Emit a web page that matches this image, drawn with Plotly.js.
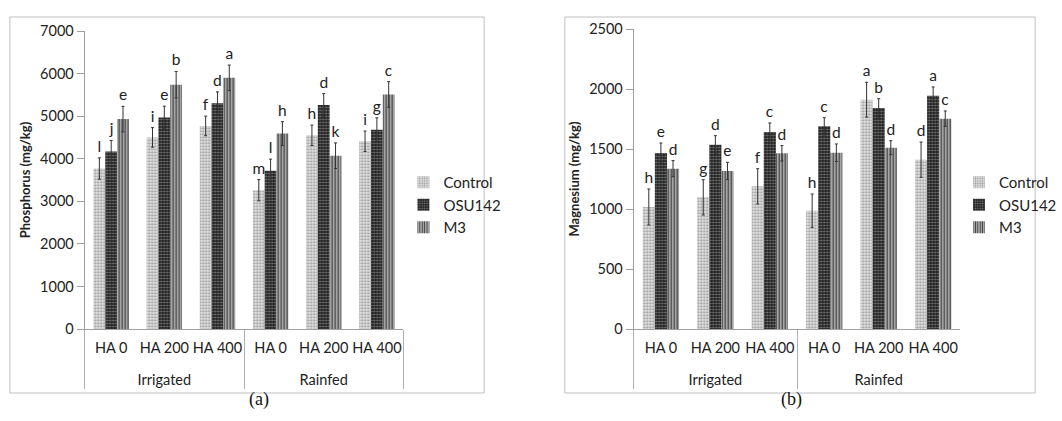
<!DOCTYPE html>
<html>
<head>
<meta charset="utf-8">
<script src="https://cdn.plot.ly/plotly-3.0.1.min.js"></script>
<style>
html,body{margin:0;padding:0;background:#fff;}
#chart{width:1062px;height:421px;}
</style>
</head>
<body>
<div id="chart"></div>
<script>
// ---- Data ----
const groups = ['Irrigated','Irrigated','Irrigated','Rainfed','Rainfed','Rainfed'];
const levels = ['HA 0','HA 200','HA 400','HA 0','HA 200','HA 400'];
const seriesNames = ['Control','OSU142','M3'];

// (a) Phosphorus (mg/kg)
const pControl = [3770, 4500, 4770, 3260, 4550, 4410];
const pControlErr = [250, 230, 230, 250, 240, 240];
const pOSU142 = [4170, 4970, 5300, 3720, 5260, 4680];
const pOSU142Err = [260, 265, 270, 270, 270, 280];
const pM3 = [4930, 5740, 5900, 4590, 4070, 5510];
const pM3Err = [300, 310, 300, 280, 300, 300];
const pControlLetters = ['l','i','f','m','h','i'];
const pOSU142Letters = ['j','e','d','l','d','g'];
const pM3Letters = ['e','b','a','h','k','c'];

// (b) Magnesium (mg/kg)
const mControl = [1017, 1097, 1189, 986, 1911, 1411];
const mControlErr = [150, 147, 147, 139, 145, 147];
const mOSU142 = [1467, 1536, 1642, 1689, 1842, 1944];
const mOSU142Err = [83, 75, 75, 72, 77, 73];
const mM3 = [1336, 1317, 1464, 1469, 1511, 1753];
const mM3Err = [67, 72, 64, 73, 58, 64];
const mControlLetters = ['h','g','f','h','a','d'];
const mOSU142Letters = ['e','d','c','c','b','a'];
const mM3Letters = ['d','e','d','d','d','c'];

// ---- Styles ----
const FONT = 'Lato, "Open Sans", sans-serif';
const patterns = [
  {shape: '.', bgcolor: '#e8e8e8', fgcolor: '#a0a0a0', size: 3, solidity: 0.45},
  {shape: '.', bgcolor: '#1e1e1e', fgcolor: '#7a7a7a', size: 3, solidity: 0.4},
  {shape: '|', bgcolor: '#c8c8c8', fgcolor: '#3a3a3a', size: 3, solidity: 0.5}
];
const offs = ['c','o','m'];
// group labels drawn one line lower (leading line break) to match the original spacing
const groupLabels = groups.map(g => '<br>' + g);

function makeTraces(vals, errs, letters, xa, ya, legendName) {
  const x = [groupLabels, levels];
  const out = [];
  vals.forEach((v, i) => {
    out.push({
      type: 'bar', x: x, y: v, name: seriesNames[i],
      xaxis: xa, yaxis: ya, legend: legendName,
      offsetgroup: offs[i],
      marker: {color: patterns[i].bgcolor, pattern: patterns[i], line: {width: 0}},
      error_y: {type: 'data', array: errs[i], visible: true, color: '#333', thickness: 1, width: 1.5},
      hoverinfo: 'y'
    });
  });
  vals.forEach((v, i) => {
    out.push({
      type: 'bar', x: x, y: v.map((d, k) => d + errs[i][k]),
      xaxis: xa, yaxis: ya, legend: legendName, showlegend: false,
      offsetgroup: offs[i],
      marker: {color: 'rgba(0,0,0,0)', line: {width: 0}},
      text: letters[i], textposition: 'outside', constraintext: 'none',
      textfont: {family: FONT, size: 15.5, color: '#222'},
      cliponaxis: false, hoverinfo: 'skip'
    });
  });
  return out;
}

const data = [].concat(
  makeTraces([pControl, pOSU142, pM3], [pControlErr, pOSU142Err, pM3Err],
             [pControlLetters, pOSU142Letters, pM3Letters], 'x', 'y', 'legend'),
  makeTraces([mControl, mOSU142, mM3], [mControlErr, mOSU142Err, mM3Err],
             [mControlLetters, mOSU142Letters, mM3Letters], 'x2', 'y2', 'legend2')
);

const W = 1062, H = 421;
const px = v => v / W;
const py = v => 1 - v / H;

const xCommon = {
  type: 'multicategory', showline: true, linecolor: '#a0a0a0', linewidth: 1,
  ticks: '', tickangle: 0, ticklabelstandoff: 6,
  showdividers: true, dividercolor: '#b0b0b0', dividerwidth: 1,
  tickfont: {family: FONT, size: 14.5, color: '#222'}, showgrid: false, zeroline: false,
  fixedrange: true
};
const yCommon = {
  showline: true, linecolor: '#a0a0a0', linewidth: 1, ticks: 'outside', ticklen: 7,
  tickcolor: '#a0a0a0', showgrid: false, zeroline: false,
  tickfont: {family: FONT, size: 14.5, color: '#222'}, fixedrange: true
};

const layout = {
  width: W, height: H,
  margin: {l: 0, r: 0, t: 0, b: 0},
  paper_bgcolor: '#fff', plot_bgcolor: 'rgba(0,0,0,0)',
  barmode: 'group', bargap: 0.333, bargroupgap: 0,
  font: {family: FONT, size: 14.5, color: '#222'},
  xaxis: Object.assign({}, xCommon, {domain: [px(86), px(410)], anchor: 'y'}),
  yaxis: Object.assign({}, yCommon, {domain: [py(329), py(31)], range: [0, 7000], dtick: 1000, anchor: 'x',
    title: {text: '<b>Phosphorus (mg/kg)</b>', font: {family: FONT, size: 13, color: '#222'}, standoff: 6}}),
  xaxis2: Object.assign({}, xCommon, {domain: [px(644), px(976)], anchor: 'y2'}),
  yaxis2: Object.assign({}, yCommon, {domain: [py(329), py(29)], range: [0, 2500], dtick: 500, anchor: 'x2',
    title: {text: '<b>Magnesium (mg/kg)</b>', font: {family: FONT, size: 13, color: '#222'}, standoff: 6}}),
  legend: {x: px(410), y: py(205), xanchor: 'left', yanchor: 'middle', itemwidth: 30,
    font: {family: FONT, size: 15, color: '#222'}, bgcolor: 'rgba(0,0,0,0)', tracegroupgap: 0},
  legend2: {x: px(975), y: py(205), xanchor: 'left', yanchor: 'middle', itemwidth: 30,
    font: {family: FONT, size: 15, color: '#222'}, bgcolor: 'rgba(0,0,0,0)', tracegroupgap: 0},
  shapes: [
    {type: 'rect', xref: 'paper', yref: 'paper', x0: px(10), x1: px(492), y0: py(393), y1: py(17),
     line: {color: '#c0c0c0', width: 1}},
    {type: 'rect', xref: 'paper', yref: 'paper', x0: px(574), x1: px(1052), y0: py(393), y1: py(17),
     line: {color: '#c0c0c0', width: 1}}
  ],
  annotations: [
    {text: '(a)', xref: 'paper', yref: 'paper', x: px(251), y: py(412), showarrow: false,
     font: {family: '"Liberation Serif", "Times New Roman", serif', size: 18, color: '#111'}},
    {text: '(b)', xref: 'paper', yref: 'paper', x: px(817), y: py(412), showarrow: false,
     font: {family: '"Liberation Serif", "Times New Roman", serif', size: 18, color: '#111'}}
  ]
};

Plotly.newPlot('chart', data, layout, {displayModeBar: false, staticPlot: true});
</script>
</body>
</html>
